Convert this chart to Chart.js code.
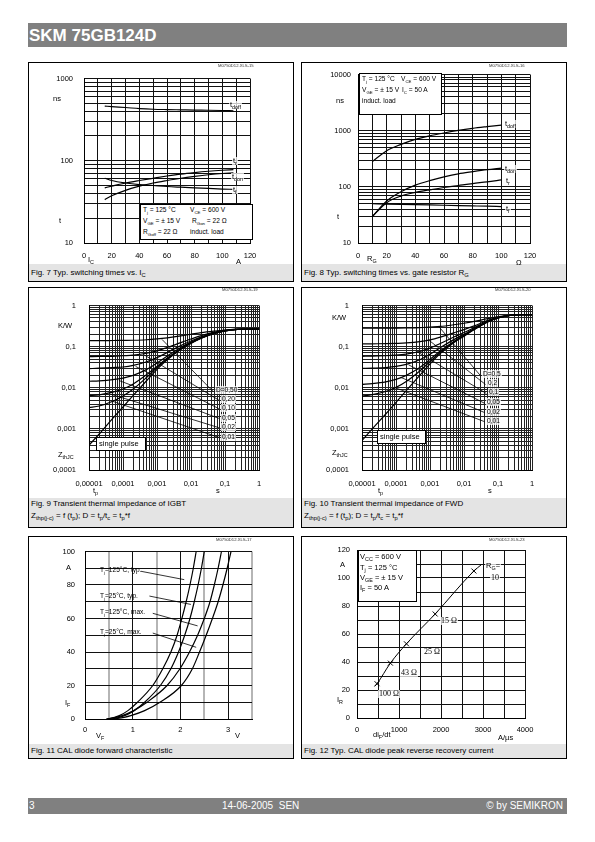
<!DOCTYPE html>
<html>
<head>
<meta charset="utf-8">
<script src="https://cdn.jsdelivr.net/npm/chart.js@4.4.1/dist/chart.umd.min.js"></script>
<style>
  body { margin: 0; background: #fff; }
  #page { position: relative; width: 595px; height: 842px; overflow: hidden; font-family: "Liberation Sans", Arial, sans-serif; color: #000; }
  .bar { position: absolute; left: 28px; width: 539px; background: #808080; color: #fff; }
  .panel { position: absolute; border: 1px solid #000; box-sizing: border-box; background: #fff; }
  .cap { position: absolute; left: 0; right: 0; bottom: 0; background: #e4e4e4; font-size: 8px; line-height: 12px; padding-left: 2px; }
  .lb { position: absolute; font-size: 7.5px; line-height: 8px; white-space: nowrap; }
  .sm { font-size: 6.6px; }
  .sm sub { font-size: 66%; }
  .cl { background: rgba(255,255,255,0.75); padding: 0 1px; }
  .box { position: absolute; border: 1px solid #000; background: #fff; box-sizing: border-box; }
  .tiny { font-size: 4.2px; color: #333; }
  .serif { font-family: "Liberation Serif", "Times New Roman", serif; font-size: 8px; }
  canvas { position: absolute; }
  sub { font-size: 72%; vertical-align: -2px; line-height: 0; }
</style>
</head>
<body>
<div id="page">
  <div class="bar" style="top:23px;height:24px;"><span style="position:absolute;left:1px;top:3px;font-size:17px;font-weight:bold;">SKM 75GB124D</span></div>

  <div class="panel" style="left:28px;top:62px;width:266px;height:220px;"><div class="cap" style="height:17px;line-height:17px;">Fig. 7 Typ. switching times vs. I<sub>C</sub></div></div>
  <div class="panel" style="left:301px;top:62px;width:266px;height:220px;"><div class="cap" style="height:17px;line-height:17px;">Fig. 8 Typ. switching times vs. gate resistor R<sub>G</sub></div></div>
  <div class="panel" style="left:28px;top:287px;width:266px;height:241px;"><div class="cap" style="height:29px;">Fig. 9 Transient thermal impedance of IGBT<br>Z<sub>thp(j-c)</sub> = f (t<sub>p</sub>); D = t<sub>p</sub>/t<sub>c</sub> = t<sub>p</sub>*f</div></div>
  <div class="panel" style="left:301px;top:287px;width:266px;height:241px;"><div class="cap" style="height:29px;">Fig. 10 Transient thermal impedance of FWD<br>Z<sub>thp(j-c)</sub> = f (t<sub>p</sub>); D = t<sub>p</sub>/t<sub>c</sub> = t<sub>p</sub>*f</div></div>
  <div class="panel" style="left:28px;top:536px;width:266px;height:223px;"><div class="cap" style="height:14px;line-height:14px;">Fig. 11 CAL diode forward characteristic</div></div>
  <div class="panel" style="left:301px;top:536px;width:266px;height:223px;"><div class="cap" style="height:14px;line-height:14px;">Fig. 12 Typ. CAL diode peak reverse recovery current</div></div>

  <canvas id="c7"></canvas>
  <canvas id="c8"></canvas>
  <canvas id="c9"></canvas>
  <canvas id="c10"></canvas>
  <canvas id="c11"></canvas>
  <canvas id="c12"></canvas>

  <div class="bar" style="top:798px;height:16px;font-size:10px;line-height:16px;">
    <span style="position:absolute;left:1px;">3</span>
    <span style="position:absolute;left:194px;">14-06-2005&nbsp;&nbsp;SEN</span>
    <span style="position:absolute;right:4px;">© by SEMIKRON</span>
  </div>
</div>

<script>
// ---- Fig 7: switching times vs I_C
const icA    = [15, 20, 30, 40, 50, 60, 70, 80, 90, 100, 108];
const tdoff7 = [462, 455, 444, 431, 423, 419, 416, 413, 411, 408, 405];
const tr7    = [46.9, 49.1, 53.6, 57.5, 61.3, 65.2, 68.9, 71.9, 74.5, 76.6, 78.0];
const tdon7  = [33.7, 37.5, 43.7, 49.1, 53.6, 57.5, 61.3, 64.6, 67.6, 70.0, 71.3];
const tf7    = [61.3, 57.5, 53.6, 51.3, 50.0, 48.6, 47.7, 46.9, 46.1, 45.3, 44.9];

// ---- Fig 8: switching times vs R_G
const rG     = [10, 20, 30, 40, 50, 60, 70, 80, 90, 100];
const tdoff8 = [281, 440, 570, 700, 810, 910, 1010, 1100, 1180, 1260];
const tdon8  = [29.6, 55.9, 81.6, 107, 129, 150, 170, 186, 202, 216];
const tr8    = [29.6, 52.2, 68.5, 79.4, 88.5, 97.3, 105.6, 114.5, 122.5, 132.9];
const tf8    = [50, 49.4, 48.8, 48.2, 47.6, 47, 46.4, 45.8, 45.2, 44.5];

// ---- Fig 9 / 10: transient thermal impedance
const tp = [1e-5, 2e-5, 5e-5, 1e-4, 2e-4, 5e-4, 1e-3, 2e-3, 5e-3, 1e-2, 2e-2, 5e-2, 0.1, 0.2, 0.5, 1];
const zsp9  = [0.0004, 0.00075, 0.0018, 0.0034, 0.0065, 0.015, 0.028, 0.048, 0.085, 0.12, 0.16, 0.21, 0.24, 0.26, 0.265, 0.265];
const d50_9 = [0.140, 0.140, 0.141, 0.142, 0.143, 0.147, 0.154, 0.164, 0.182, 0.20, 0.22, 0.24, 0.253, 0.262, 0.265, 0.265];
const d20_9 = [0.057, 0.058, 0.058, 0.060, 0.062, 0.069, 0.079, 0.095, 0.125, 0.153, 0.185, 0.225, 0.248, 0.262, 0.265, 0.265];
const d10_9 = [0.029, 0.030, 0.031, 0.032, 0.035, 0.043, 0.054, 0.072, 0.106, 0.137, 0.173, 0.218, 0.245, 0.262, 0.265, 0.265];
const d05_9 = [0.0144, 0.0147, 0.0157, 0.0172, 0.020, 0.028, 0.040, 0.059, 0.095, 0.128, 0.167, 0.214, 0.242, 0.261, 0.265, 0.265];
const d02_9 = [0.0064, 0.0067, 0.0078, 0.0093, 0.0124, 0.021, 0.033, 0.053, 0.089, 0.124, 0.163, 0.212, 0.241, 0.260, 0.265, 0.265];
const d01_9 = [0.0033, 0.0036, 0.0047, 0.0063, 0.0093, 0.018, 0.031, 0.050, 0.087, 0.122, 0.161, 0.211, 0.240, 0.260, 0.265, 0.265];
// leader lines: [t start, Z start, t end, Z end]
const lead9 = [[1.4e-3, 0.15, 0.044, 0.0082], [4.2e-4, 0.063, 0.066, 0.0050], [2.35e-4, 0.033, 0.066, 0.0031],
               [7.6e-5, 0.015, 0.066, 0.0018], [4.3e-5, 0.007, 0.066, 0.00107], [4.9e-5, 0.0047, 0.066, 0.00062]];

const zsp10  = [0.00052, 0.001, 0.0023, 0.0044, 0.0085, 0.02, 0.038, 0.068, 0.125, 0.18, 0.26, 0.40, 0.50, 0.57, 0.60, 0.60];
const d5_10  = [0.28, 0.28, 0.281, 0.282, 0.284, 0.29, 0.30, 0.31, 0.34, 0.37, 0.41, 0.48, 0.53, 0.58, 0.60, 0.60];
const d2_10  = [0.116, 0.117, 0.118, 0.120, 0.123, 0.132, 0.146, 0.17, 0.216, 0.26, 0.32, 0.436, 0.516, 0.572, 0.596, 0.60];
const d1_10  = [0.058, 0.059, 0.060, 0.062, 0.066, 0.076, 0.092, 0.119, 0.171, 0.22, 0.29, 0.418, 0.508, 0.571, 0.598, 0.60];
const d05_10 = [0.0295, 0.030, 0.031, 0.033, 0.037, 0.048, 0.065, 0.094, 0.148, 0.20, 0.276, 0.409, 0.504, 0.57, 0.599, 0.60];
const d02_10 = [0.0121, 0.0126, 0.0139, 0.016, 0.020, 0.031, 0.049, 0.078, 0.134, 0.188, 0.266, 0.404, 0.502, 0.57, 0.60, 0.60];
const d01_10 = [0.0063, 0.0068, 0.0081, 0.0102, 0.0142, 0.0256, 0.0434, 0.073, 0.130, 0.184, 0.263, 0.402, 0.501, 0.57, 0.60, 0.60];
const lead10 = [[1.8e-3, 0.31, 0.030, 0.020], [9.1e-4, 0.145, 0.043, 0.012], [4.1e-4, 0.076, 0.045, 0.0073],
                [2.35e-4, 0.036, 0.040, 0.0042], [1.35e-4, 0.018, 0.040, 0.0025], [9.6e-5, 0.010, 0.040, 0.0015]];

// ---- Fig 11: diode forward characteristic (V_F per I_F)
const iF11     = [0, 1, 2, 5, 10, 20, 30, 40, 50, 60, 70, 80, 90, 100];
const vf125typ = [0.45, 0.62, 0.72, 0.90, 1.10, 1.42, 1.63, 1.80, 1.93, 2.03, 2.12, 2.20, 2.27, 2.33];
const vf25typ  = [0.55, 0.72, 0.83, 1.03, 1.25, 1.58, 1.80, 1.96, 2.09, 2.20, 2.29, 2.37, 2.44, 2.50];
const vf125max = [0.45, 0.65, 0.78, 1.02, 1.30, 1.72, 1.99, 2.19, 2.36, 2.50, 2.62, 2.71, 2.79, 2.86];
const vf25max  = [0.60, 0.82, 0.96, 1.25, 1.57, 2.02, 2.25, 2.40, 2.54, 2.67, 2.79, 2.89, 2.98, 3.06];
const lead11 = [[1.17, 88.2, 2.08, 83.2], [1.35, 73.4, 2.22, 68.4], [1.42, 63.1, 2.36, 55.6], [1.42, 51.3, 2.33, 42.8]];

// ---- Fig 12: peak reverse recovery current
const difdt12 = [420, 477, 795, 1177, 1861, 2783, 2960];
const irr12   = [22.6, 24.5, 39.2, 53.0, 74.3, 105.0, 109.5];
const markX12 = [477, 795, 1177, 1861, 2783];
const markY12 = [24.5, 39.2, 53.0, 74.3, 105.0];

// ---- tick labels
const tLog7 = [10, 100, 1000], tLog7Txt = ['10', '100', '1000'];
const tLog8 = [10, 100, 1000, 10000], tLog8Txt = ['10', '100', '1000', '10000'];
const tLin120 = [0, 20, 40, 60, 80, 100, 120], tLin120Txt = ['0', '20', '40', '60', '80', '100', '120'];
const tZ = [0.0001, 0.001, 0.01, 0.1, 1], tZTxt = ['0,0001', '0,001', '0,01', '0,1', '1'];
const tT = [1e-5, 1e-4, 1e-3, 0.01, 0.1, 1], tTTxt = ['0,00001', '0,0001', '0,001', '0,01', '0,1', '1'];
const tV11 = [0, 1, 2, 3], tV11Txt = ['0', '1', '2', '3'];
const tI11 = [0, 20, 40, 60, 80, 100], tI11Txt = ['0', '20', '40', '60', '80', '100'];
const tX12 = [0, 1000, 2000, 3000, 4000], tX12Txt = ['0', '1000', '2000', '3000', '4000'];
const tY12 = [0, 20, 40, 60, 80, 100, 120], tY12Txt = ['0', '20', '40', '60', '80', '100', '120'];

const FONT = { family: "'Liberation Sans', Arial, sans-serif", size: 7.5 };
const page = document.getElementById('page');

function logGrid(lo, hi) {
  const v = [];
  for (let e = lo; e < hi; e++) for (let m = 1; m < 10; m++) v.push(m * Math.pow(10, e));
  v.push(Math.pow(10, hi));
  return v;
}
function linGrid(min, max, step) {
  const v = [];
  for (let x = min; x <= max + 1e-9; x += step) v.push(+x.toFixed(6));
  return v;
}
function labeler(vals, texts) {
  return v => {
    const i = vals.findIndex(t => Math.abs(v - t) <= Math.abs(t) * 1e-6 + 1e-9);
    return i < 0 ? '' : texts[i];
  };
}
function axis(pos, type, min, max, grid, label, pad, gridOpt) {
  return {
    type, min, max, position: pos,
    afterBuildTicks: s => { s.ticks = grid.map(v => ({ value: v })); },
    ticks: { autoSkip: false, maxRotation: 0, minRotation: 0, padding: pad, color: '#000', font: FONT, callback: v => label(v) },
    grid: Object.assign({ color: '#111', lineWidth: 1, drawTicks: false }, gridOpt || {}),
    border: { color: '#000', width: 1 }
  };
}
function line(xs, ys, w) {
  return {
    data: xs.map((x, i) => ({ x, y: ys[i] })),
    borderColor: '#000', borderWidth: w || 1.2, pointRadius: 0,
    cubicInterpolationMode: 'monotone', fill: false
  };
}
function leaders(list) {
  return list.map(l => ({ data: [{ x: l[0], y: l[1] }, { x: l[2], y: l[3] }], borderColor: '#000', borderWidth: 0.8, pointRadius: 0 }));
}
// panel = canvas placement in page coords, plot = chart area in page coords
function build(id, panel, plot, datasets, xAx, yAx) {
  const cv = document.getElementById(id);
  const w = panel.w, h = panel.h;
  cv.width = w; cv.height = h;
  cv.style.left = panel.x + 'px'; cv.style.top = panel.y + 'px';
  const L = plot.l - panel.x, T = plot.t - panel.y, R = plot.r - panel.x, B = plot.b - panel.y;
  xAx.afterFit = s => { s.height = h - B; };
  yAx.afterFit = s => { s.width = L; };
  return new Chart(cv, {
    type: 'line',
    data: { datasets },
    options: {
      responsive: false, animation: false, devicePixelRatio: 1,
      layout: { padding: { left: 0, top: T, right: w - R, bottom: 0 } },
      plugins: { legend: { display: false }, tooltip: { enabled: false } },
      scales: { x: xAx, y: yAx }
    }
  });
}
function txt(x, y, html, cls) {
  const s = document.createElement('span');
  s.className = 'lb ' + (cls || '');
  s.innerHTML = html;
  s.style.left = x + 'px'; s.style.top = (y - 4) + 'px';
  page.appendChild(s);
}
function box(x, y, w, h) {
  const d = document.createElement('div');
  d.className = 'box';
  Object.assign(d.style, { left: x + 'px', top: y + 'px', width: w + 'px', height: h + 'px' });
  page.appendChild(d);
}

// Fig 7
build('c7', { x: 29, y: 63, w: 264, h: 201 }, { l: 84, t: 73, r: 250, b: 243 },
  [line(icA, tdoff7), line(icA, tr7), line(icA, tdon7), line(icA, tf7)],
  axis('bottom', 'linear', 0, 120, linGrid(0, 120, 10), labeler(tLin120, tLin120Txt), 8),
  axis('left', 'logarithmic', 10, 1000, logGrid(1, 3), labeler(tLog7, tLog7Txt), 11));

// Fig 8
build('c8', { x: 302, y: 63, w: 264, h: 201 }, { l: 358, t: 73, r: 530, b: 243 },
  [line(rG, tdoff8), line(rG, tdon8), line(rG, tr8), line(rG, tf8)],
  axis('bottom', 'linear', 0, 120, linGrid(0, 120, 10), labeler(tLin120, tLin120Txt), 8),
  axis('left', 'logarithmic', 10, 10000, logGrid(1, 4), labeler(tLog8, tLog8Txt), 7));

// Fig 9
build('c9', { x: 29, y: 288, w: 264, h: 210 }, { l: 89, t: 303, r: 259, b: 470 },
  [line(tp, zsp9), line(tp, d50_9), line(tp, d20_9), line(tp, d10_9), line(tp, d05_9), line(tp, d02_9), line(tp, d01_9)].concat(leaders(lead9)),
  axis('bottom', 'logarithmic', 1e-5, 1, logGrid(-5, 0), labeler(tT, tTTxt), 9, { color: '#222' }),
  axis('left', 'logarithmic', 1e-4, 1, logGrid(-4, 0), labeler(tZ, tZTxt), 13, { color: '#222' }));

// Fig 10
build('c10', { x: 302, y: 288, w: 264, h: 210 }, { l: 362, t: 303, r: 532, b: 470 },
  [line(tp, zsp10), line(tp, d5_10), line(tp, d2_10), line(tp, d1_10), line(tp, d05_10), line(tp, d02_10), line(tp, d01_10)].concat(leaders(lead10)),
  axis('bottom', 'logarithmic', 1e-5, 1, logGrid(-5, 0), labeler(tT, tTTxt), 9, { color: '#222' }),
  axis('left', 'logarithmic', 1e-4, 1, logGrid(-4, 0), labeler(tZ, tZTxt), 13, { color: '#222' }));

// Fig 11
const halfV = c => c.tick && Math.abs(c.tick.value % 1) > 1e-6;
build('c11', { x: 29, y: 537, w: 264, h: 207 }, { l: 85, t: 550, r: 252, b: 719 },
  [line(vf125typ, iF11), line(vf25typ, iF11), line(vf125max, iF11), line(vf25max, iF11)].concat(leaders(lead11)),
  axis('bottom', 'linear', 0, 3.5, linGrid(0, 3.5, 0.5), labeler(tV11, tV11Txt), 6,
    { color: c => halfV(c) ? '#b5b5b5' : '#111', lineWidth: c => halfV(c) ? 2 : 1 }),
  axis('left', 'linear', 0, 100, linGrid(0, 100, 10), labeler(tI11, tI11Txt), 10));

// Fig 12
build('c12', { x: 302, y: 537, w: 264, h: 207 }, { l: 357, t: 550, r: 525, b: 718 },
  [line(difdt12, irr12, 1),
   { data: markX12.map((x, i) => ({ x, y: markY12[i] })), showLine: false, pointStyle: 'crossRot', pointRadius: 3.5,
     borderColor: '#000', pointBorderWidth: 1, backgroundColor: '#000' }],
  axis('bottom', 'linear', 0, 4000, linGrid(0, 4000, 500), labeler(tX12, tX12Txt), 7),
  axis('left', 'linear', 0, 120, linGrid(0, 120, 10), labeler(tY12, tY12Txt), 7));

// ---- texts, Fig 7
txt(218, 66, 'M0750D12.XLS-15', 'tiny');
txt(53, 99, 'ns'); txt(59, 221, 't');
txt(88, 260, 'I<sub>C</sub>'); txt(236, 262, 'A');
txt(229, 105, 't<sub>doff</sub>', 'cl'); txt(232, 161, 't<sub>r</sub>', 'cl');
txt(231, 177, 't<sub>don</sub>', 'cl'); txt(232, 190, 't<sub>f</sub>', 'cl');
box(140, 204, 113, 36);
txt(143, 210, 'T<sub>j</sub> = 125 °C', 'sm'); txt(190, 210, 'V<sub>CE</sub> = 600 V', 'sm');
txt(143, 221, 'V<sub>GE</sub> = ± 15 V', 'sm'); txt(192, 221, 'R<sub>Gon</sub> = 22 Ω', 'sm');
txt(143, 232, 'R<sub>Goff</sub> = 22 Ω', 'sm'); txt(190, 232, 'induct. load', 'sm');

// Fig 8
txt(489, 66, 'M0750D12.XLS-16', 'tiny');
txt(336, 101, 'ns'); txt(337, 217, 't');
txt(367, 259, 'R<sub>G</sub>'); txt(516, 263, 'Ω');
txt(504, 124, 't<sub>doff</sub>', 'cl'); txt(504, 169, 't<sub>don</sub>', 'cl');
txt(505, 181, 't<sub>r</sub>', 'cl'); txt(505, 209, 't<sub>f</sub>', 'cl');
box(359, 73, 83, 42);
txt(362, 79, 'T<sub>j</sub> = 125 °C', 'sm'); txt(401, 79, 'V<sub>CE</sub> = 600 V', 'sm');
txt(362, 90, 'V<sub>GE</sub> = ± 15 V', 'sm'); txt(402, 90, 'I<sub>C</sub> = 50 A', 'sm');
txt(362, 101, 'induct. load', 'sm');

// Fig 9
txt(222, 290, 'M0750D12.XLS-19', 'tiny');
txt(58, 326, 'K/W'); txt(58, 455, 'Z<sub>thJC</sub>');
txt(93, 491, 't<sub>p</sub>'); txt(216, 491, 's');
box(96, 437, 50, 14); txt(99, 444, 'single pulse');
txt(215, 390, 'D=0,50', 'cl sm'); txt(221, 399, '0,20', 'cl sm'); txt(221, 408, '0,10', 'cl sm');
txt(221, 418, '0,05', 'cl sm'); txt(221, 427, '0,02', 'cl sm'); txt(221, 437, '0,01', 'cl sm');

// Fig 10
txt(495, 290, 'M0750D12.XLS-20', 'tiny');
txt(332, 318, 'K/W'); txt(332, 453, 'Z<sub>thJC</sub>');
txt(378, 491, 't<sub>p</sub>'); txt(488, 491, 's');
box(377, 430, 49, 14); txt(380, 437, 'single pulse');
txt(482, 374, 'D=0,5', 'cl sm'); txt(487, 383, '0,2', 'cl sm'); txt(488, 392, '0,1', 'cl sm');
txt(486, 402, '0,05', 'cl sm'); txt(486, 412, '0,02', 'cl sm'); txt(486, 421, '0,01', 'cl sm');

// Fig 11
txt(216, 540, 'M0750D12.XLS-17', 'tiny');
txt(66, 568, 'A'); txt(65, 703, 'I<sub>F</sub>');
txt(96, 736, 'V<sub>F</sub>'); txt(235, 736, 'V');
txt(100, 570, 'T<sub>j</sub>=125°C, typ.', 'sm'); txt(100, 596, 'T<sub>j</sub>=25°C, typ.', 'sm');
txt(100, 612, 'T<sub>j</sub>=125°C, max.', 'sm'); txt(100, 632, 'T<sub>j</sub>=25°C, max.', 'sm');

// Fig 12
txt(489, 540, 'M0750D12.XLS-23', 'tiny');
txt(340, 565, 'A'); txt(337, 700, 'I<sub>R</sub>');
txt(373, 735, 'di<sub>F</sub>/dt'); txt(498, 738, 'A/µs');
box(358, 550, 59, 52);
txt(360, 557, 'V<sub>CC</sub> = 600 V'); txt(360, 568, 'T<sub>j</sub> = 125 °C');
txt(360, 578, 'V<sub>GE</sub> = ± 15 V'); txt(360, 588, 'I<sub>F</sub> = 50 A');
txt(485, 566, 'R<sub>G</sub>=', 'cl'); txt(490, 578, '10', 'serif cl');
txt(440, 621, '15 Ω', 'serif cl'); txt(423, 652, '25 Ω', 'serif cl');
txt(400, 673, '43 Ω', 'serif cl'); txt(378, 694, '100 Ω', 'serif cl');
</script>
</body>
</html>
